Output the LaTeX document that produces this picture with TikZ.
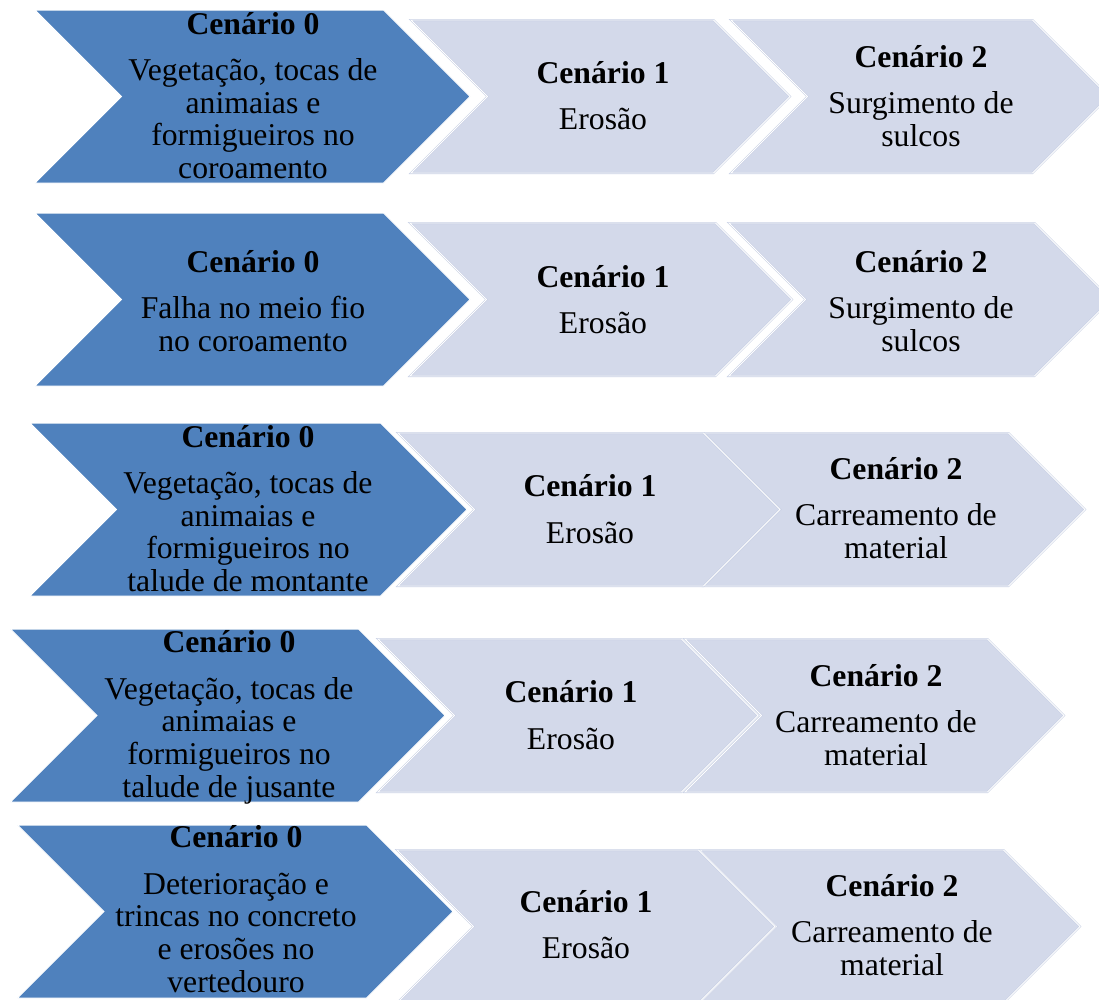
\documentclass[tikz,border=0pt]{standalone}
\usepackage{fontspec}
\setmainfont{Liberation Serif}
\definecolor{stepdark}{RGB}{79,129,189}
\definecolor{steplight}{RGB}{211,217,234}
\definecolor{steplightedge}{RGB}{200,208,228}
% chevron: #1 style, #2 left x, #3 top y, #4 width, #5 height (45 degree points)
\newcommand\chev[5]{%
  \path[#1] (#2,#3) -- ++({#4-#5/2},0) -- ++({#5/2},{#5/2}) -- ++({-#5/2},{#5/2})
    -- ++({-#4+#5/2},0) -- ++({#5/2},{-#5/2}) -- cycle;}
\tikzset{
  darkchev/.style={fill=stepdark, draw=white, line width=1pt},
  lightchev/.style={fill=steplight, draw=steplightedge, line width=2pt},
  lightsep/.style={draw=white, line width=0.8pt},
  % labels are placed by the baseline of their last line
  lbl/.style={anchor=base, align=center, inner sep=0pt, text=black,
    font=\fontsize{31.7}{32.6}\selectfont},
}
\newcommand\lightchev[4]{\chev{lightchev}{#1}{#2}{#3}{#4}\chev{lightsep}{#1}{#2}{#3}{#4}}
\begin{document}
\begin{tikzpicture}[x=1pt, y=-1pt]
\useasboundingbox (0,0) rectangle (1099,999);
\clip (0,0) rectangle (1099,999);
% row 1
\lightchev{731}{20}{378}{153}
\lightchev{411}{20}{379}{153}
\chev{darkchev}{35}{10}{435}{173}
\node[lbl] (r1a) at (253,178.5) {\textbf{Cenário 0}\\[13.8pt]Vegetação, tocas de\\animaias e\\formigueiros no\\coroamento};
\node[lbl] (r1b) at (603,129.4) {\textbf{Cenário 1}\\[13.8pt]Erosão};
\node[lbl] (r1c) at (921,146) {\textbf{Cenário 2}\\[13.8pt]Surgimento de\\sulcos};
% row 2
\lightchev{729}{223}{382}{153}
\lightchev{410}{223}{382}{153}
\chev{darkchev}{35}{213}{435}{173}
\node[lbl] (r2a) at (253,351) {\textbf{Cenário 0}\\[13.8pt]Falha no meio fio\\no coroamento};
\node[lbl] (r2b) at (603,333.4) {\textbf{Cenário 1}\\[13.8pt]Erosão};
\node[lbl] (r2c) at (921,351) {\textbf{Cenário 2}\\[13.8pt]Surgimento de\\sulcos};
% row 3
\lightchev{704}{433}{381}{153}
\lightchev{398}{433}{382}{153}
\chev{darkchev}{30}{423}{437}{173}
\node[lbl] (r3a) at (248,591.5) {\textbf{Cenário 0}\\[13.8pt]Vegetação, tocas de\\animaias e\\formigueiros no\\talude de montante};
\node[lbl] (r3b) at (590,543) {\textbf{Cenário 1}\\[13.8pt]Erosão};
\node[lbl] (r3c) at (896,558) {\textbf{Cenário 2}\\[13.8pt]Carreamento de\\material};
% row 4
\lightchev{685}{639}{379}{153}
\lightchev{378}{639}{380}{153}
\chev{darkchev}{10.5}{629}{434.5}{173}
\node[lbl] (r4a) at (229,797) {\textbf{Cenário 0}\\[13.8pt]Vegetação, tocas de\\animaias e\\formigueiros no\\talude de jusante};
\node[lbl] (r4b) at (571,749) {\textbf{Cenário 1}\\[13.8pt]Erosão};
\node[lbl] (r4c) at (876,765.5) {\textbf{Cenário 2}\\[13.8pt]Carreamento de\\material};
% row 5
\lightchev{700}{850}{380}{153}
\lightchev{397}{850}{378}{153}
\chev{darkchev}{17.5}{825}{435.5}{173}
\node[lbl] (r5a) at (236,992) {\textbf{Cenário 0}\\[13.8pt]Deterioração e\\trincas no concreto\\e erosões no\\vertedouro};
\node[lbl] (r5b) at (586,958.4) {\textbf{Cenário 1}\\[13.8pt]Erosão};
\node[lbl] (r5c) at (892,975) {\textbf{Cenário 2}\\[13.8pt]Carreamento de\\material};
\end{tikzpicture}
\end{document}
